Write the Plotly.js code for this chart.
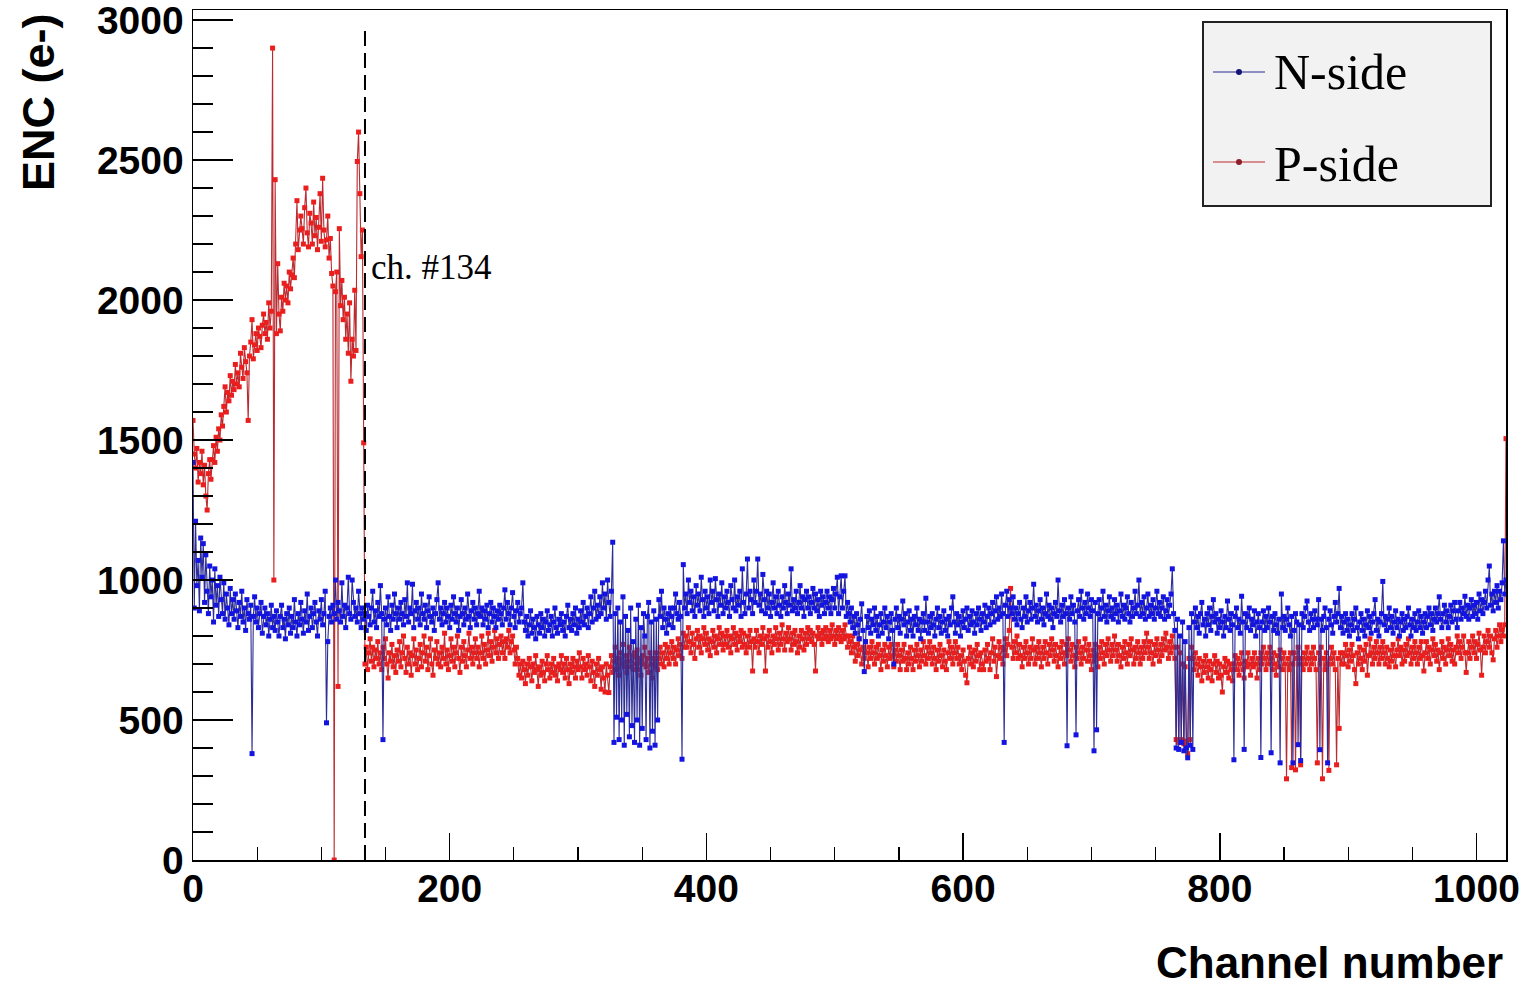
<!DOCTYPE html>
<html>
<head>
<meta charset="utf-8">
<script src="https://cdn.plot.ly/plotly-3.0.1.min.js"></script>
<style>
  html, body { margin: 0; padding: 0; background: #ffffff; }
  #chart { width: 1524px; height: 987px; }
</style>
</head>
<body>
<div id="chart"></div>
<script>
// ENC per channel, N-side (electrons), channels 0..1023
const nSide = [
1420,900,1210,980,1070,890,1150,1010,1130,920,1090,960,880,1050,940,1000,850,1040,910,980,870,1010,930,880,990,860,950,900,840,970,880,930,
860,950,890,830,920,870,960,850,900,820,930,880,860,910,380,870,940,850,900,830,880,920,810,870,900,840,880,800,860,910,830,870,
820,890,850,800,870,910,830,860,790,880,840,900,810,870,830,930,850,800,880,840,920,860,810,890,850,950,820,870,900,830,880,920,
850,800,890,860,930,840,880,960,490,780,870,900,850,910,880,1000,860,920,890,850,990,870,910,830,900,1010,880,860,1000,920,870,900,
850,960,880,830,900,860,880,820,910,870,840,900,960,850,890,830,920,870,980,880,430,860,900,840,940,870,820,910,860,950,880,830,
900,860,920,880,840,930,870,990,850,900,880,985,830,890,920,860,900,840,950,880,860,910,830,890,940,870,850,900,820,880,930,990,
860,900,840,880,920,850,900,870,830,910,860,940,880,850,900,820,870,930,880,840,900,860,950,870,830,890,920,860,900,840,880,960,
870,900,840,890,860,910,830,880,920,850,900,870,830,890,860,910,880,840,900,965,860,920,880,840,900,955,870,830,890,920,850,880,
900,990,850,820,870,800,840,890,810,860,830,790,870,840,810,880,830,860,800,850,890,820,840,870,800,850,900,830,810,860,840,880,
820,850,800,870,910,830,860,820,880,840,900,810,860,830,890,850,920,840,870,900,830,880,940,850,900,960,860,910,870,940,880,990,
900,950,860,1000,920,870,960,1135,420,880,510,900,430,850,500,940,410,870,520,820,440,900,480,780,420,860,500,910,410,830,470,880,
800,430,870,920,400,850,460,890,410,860,500,930,870,960,830,900,860,810,880,840,900,870,830,900,950,880,860,920,870,360,1055,900,
950,880,1000,920,960,890,940,870,980,910,950,890,1010,930,870,960,900,940,880,1000,920,960,890,1005,930,870,950,910,990,880,940,900,
960,920,870,980,930,900,1000,890,940,910,960,870,1040,920,880,950,1075,900,960,930,880,1000,920,960,1075,910,950,890,1020,930,880,960,
900,950,870,920,990,900,940,880,960,910,870,940,900,980,920,880,950,910,1040,890,930,900,960,880,920,980,900,940,870,930,960,900,
940,880,920,970,900,950,890,930,870,960,910,940,880,920,960,900,940,880,930,970,900,950,1010,880,940,1015,900,960,1015,870,920,880,
850,900,830,870,810,880,840,790,860,915,820,673,780,870,830,890,810,860,840,900,820,870,800,840,880,810,850,900,830,870,790,850,
880,820,700,860,900,830,870,810,860,925,840,880,800,850,890,820,860,800,870,840,900,820,860,790,850,880,820,935,850,810,870,830,
880,840,800,860,900,830,870,810,850,890,820,860,800,870,840,900,940,850,810,880,840,870,800,850,890,830,860,900,820,870,840,890,
850,810,880,840,900,860,820,880,850,910,830,870,900,840,880,920,850,890,940,860,900,870,950,880,420,910,960,870,930,900,880,940,
860,900,840,880,920,860,830,900,870,940,850,890,920,860,900,985,870,910,850,890,930,860,900,840,880,950,870,910,860,900,830,880,
920,870,1000,890,850,910,870,930,880,408,900,860,940,880,910,850,447,890,930,870,960,900,860,920,880,950,900,870,930,890,390,920,
465,880,930,860,900,960,870,910,850,890,940,870,900,860,930,880,910,850,890,950,870,910,860,900,940,880,850,920,870,900,960,880,
910,1000,870,920,880,940,860,900,950,870,910,880,930,860,900,960,880,920,870,900,940,860,890,930,870,910,950,1040,880,820,400,860,
395,800,420,850,390,780,400,365,830,410,880,395,850,900,830,870,810,880,920,840,860,800,880,840,900,820,870,930,850,880,810,860,
830,890,850,800,870,830,925,860,820,880,840,358,870,900,830,860,810,942,850,395,880,830,870,900,820,860,840,890,800,850,880,830,
366,850,890,820,870,830,900,850,383,870,820,880,840,810,860,347,950,830,870,820,860,900,840,800,870,347,820,880,850,412,840,355,
880,830,870,900,925,850,820,880,860,830,890,860,840,930,394,860,820,870,900,830,347,860,890,840,810,870,920,850,880,970,830,870,
810,850,880,820,860,800,840,880,820,860,900,830,790,850,880,820,860,800,840,890,830,870,810,850,880,930,820,860,800,850,880,995,
840,870,820,860,900,830,870,810,850,890,830,860,800,850,880,820,860,830,870,900,840,800,860,830,880,820,850,890,830,870,810,850,
880,830,870,900,840,880,820,860,900,850,880,940,860,830,880,910,850,890,830,870,910,850,890,920,860,830,890,920,860,900,880,942,
870,910,860,900,930,870,910,880,920,860,950,890,930,880,920,960,900,1000,1050,910,950,890,960,920,980,900,960,930,990,1140,950,1000
];

// ENC per channel, P-side (electrons), channels 0..1023
const pSide = [
1570,1450,1400,1470,1350,1420,1380,1460,1340,1410,1300,1250,1380,1430,1360,1430,1480,1420,1510,1460,1540,1500,1590,1550,1620,1690,1600,1670,1640,1730,1660,1710,
1680,1770,1700,1740,1690,1810,1760,1720,1830,1780,1740,1570,1800,1850,1930,1790,1840,1880,1820,1900,1870,1830,1910,1950,1880,1920,1860,1990,1900,1960,2900,1000,
2430,1880,2130,1950,1890,2010,1960,2060,2000,2050,1990,2100,2040,2090,2150,2080,2200,2355,2180,2250,2300,2255,2200,2330,2400,2240,2190,2310,2275,2200,2350,2230,
2295,2180,2260,2380,2210,2435,2250,2190,2215,2300,2150,2220,2095,2050,0,2030,2100,620,2255,1980,2070,1930,2010,1860,1950,1810,1990,1710,1860,1800,2035,1820,
2495,2600,2380,2155,2250,1490,700,760,680,740,790,710,760,690,750,720,780,700,740,680,760,720,790,700,650,740,710,770,690,730,670,750,
710,780,690,740,800,720,670,760,700,740,660,730,790,700,750,680,720,770,690,740,800,710,760,680,730,790,700,660,750,720,780,700,
740,690,760,720,810,700,750,680,730,790,710,760,690,740,800,720,670,760,710,780,730,690,750,810,720,760,700,740,790,720,760,690,
740,800,720,770,700,750,810,730,780,710,760,820,740,790,720,770,800,740,780,720,790,760,820,740,780,800,750,700,760,720,660,700,
650,710,680,630,700,660,720,690,640,700,670,730,680,620,690,660,710,670,640,700,730,680,650,700,670,720,660,690,640,700,680,730,
670,700,650,720,680,630,700,670,720,690,650,710,680,740,690,650,720,680,700,660,730,690,640,710,670,620,700,660,720,680,610,690,
650,600,700,660,598,690,730,670,710,760,680,720,660,740,700,770,690,730,670,710,760,690,730,680,740,700,750,680,720,660,730,700,
760,690,720,670,740,700,650,720,690,740,680,720,760,700,740,690,770,720,760,700,740,780,720,760,700,750,790,730,770,720,810,760,
800,760,830,780,740,810,770,720,790,820,760,800,740,790,830,770,810,750,790,730,780,820,760,800,740,790,830,770,810,750,800,770,
820,760,800,740,790,830,770,810,750,800,780,820,760,810,770,740,800,760,820,780,675,790,760,820,780,740,800,770,830,790,675,800,
760,820,780,740,800,770,830,790,750,810,770,840,790,750,810,780,830,790,750,810,770,820,780,740,800,760,820,790,750,810,770,830,
790,820,780,810,770,675,800,830,790,810,770,820,790,830,800,780,820,790,840,800,770,820,790,830,800,780,820,790,840,800,760,800,
780,740,800,760,710,770,730,790,750,700,760,720,780,740,690,760,720,780,740,700,760,720,770,730,680,750,710,770,730,690,760,720,
770,730,690,750,710,770,730,680,750,710,770,720,680,740,700,760,720,680,750,710,770,730,690,750,710,780,730,700,760,720,780,740,
700,760,720,680,750,710,770,730,690,750,710,680,740,780,720,760,700,740,780,720,760,700,730,680,750,710,660,633,720,760,700,740,
690,750,710,770,730,680,740,700,680,750,710,770,720,680,740,790,710,760,655,730,780,720,760,700,750,790,730,770,820,970,760,720,
780,740,800,720,770,730,690,760,720,780,740,700,760,720,790,750,700,760,720,780,740,690,760,720,780,740,700,770,730,790,750,710,
770,730,690,760,720,780,740,700,770,730,790,750,710,770,730,690,760,720,780,740,700,760,720,790,750,710,770,730,680,750,710,770,
730,690,760,720,780,740,700,770,730,790,750,710,770,730,800,750,710,770,730,690,760,720,780,740,700,770,730,790,750,700,760,720,
780,740,700,760,720,780,740,810,760,720,780,740,700,770,730,790,750,710,770,730,790,750,810,760,720,780,740,800,760,720,430,760,
420,740,430,700,415,690,425,380,720,430,760,720,680,740,700,660,720,690,640,710,670,730,690,650,710,680,640,700,730,670,710,650,
700,660,600,690,720,670,710,650,700,680,640,700,730,680,720,660,700,740,680,650,710,690,740,700,660,720,690,740,700,650,720,680,
740,700,760,720,680,740,700,760,720,680,740,700,660,730,690,750,720,680,740,700,290,720,680,740,330,700,740,322,720,760,700,340,
720,680,740,700,760,720,680,740,700,760,720,680,347,740,700,760,290,720,680,740,700,320,720,760,700,740,680,340,720,470,740,700,
740,700,770,730,690,750,710,770,730,680,630,740,700,760,720,680,750,710,770,660,730,790,740,700,760,720,780,740,700,760,720,780,
740,700,760,720,690,750,710,770,730,690,750,790,730,760,700,750,710,770,730,790,740,700,760,720,780,740,700,760,720,780,730,675,
740,780,720,760,700,750,790,730,770,710,750,680,740,780,720,760,700,750,790,730,770,710,750,700,760,800,740,780,720,760,800,740,
670,740,780,720,760,800,740,780,720,770,810,750,660,760,800,740,780,820,760,800,740,715,790,820,760,800,840,780,823,800,840,1505
];

const seriesNames = ["N-side", "P-side"];
const markerChannel = 134;
const markerLabel = "ch. #134";
const xTitle = "Channel number";
const yTitle = "ENC (e-)";

const chN = nSide.map((_, i) => i);
const chP = pSide.map((_, i) => i);

const sans = "Liberation Sans, Arial, Helvetica, sans-serif";
const serif = "Liberation Serif, Times New Roman, serif";

const traceP = {
  x: chP, y: pSide, type: "scatter", mode: "lines+markers", name: seriesNames[1],
  line: { color: "rgb(185,45,50)", width: 1.1 },
  marker: { color: "rgb(235,30,30)", size: 5, symbol: "square" },
  showlegend: false, hoverinfo: "x+y"
};
const traceN = {
  x: chN, y: nSide, type: "scatter", mode: "lines+markers", name: seriesNames[0],
  line: { color: "rgb(45,45,150)", width: 1.1 },
  marker: { color: "rgb(20,20,225)", size: 5, symbol: "square" },
  showlegend: false, hoverinfo: "x+y"
};

// pixel helpers for paper coords (plot area: x 193..1506, y 10..860)
const L = 193, R = 1506, T = 10, B = 860;
const px = v => (v - L) / (R - L);
const py = v => (B - v) / (B - T);

const layout = {
  width: 1524, height: 987,
  margin: { l: L, r: 1524 - R, t: T, b: 987 - B, pad: 0 },
  paper_bgcolor: "#ffffff", plot_bgcolor: "#ffffff",
  showlegend: false,
  xaxis: {
    range: [0, 1023], tickmode: "linear", tick0: 0, dtick: 200,
    ticks: "inside", ticklen: 27, tickwidth: 1.5, tickcolor: "#000",
    minor: { dtick: 50, tick0: 0, ticks: "inside", ticklen: 13, tickwidth: 1.2, tickcolor: "#000", showgrid: false },
    showline: true, mirror: true, linecolor: "#000", linewidth: 1.5,
    showgrid: false, zeroline: false, ticklabeloverflow: "allow", ticklabelstandoff: -6,
    tickfont: { family: sans, size: 39, color: "#000", weight: "bold" }
  },
  yaxis: {
    range: [0, 3036], tickmode: "linear", tick0: 0, dtick: 500,
    ticks: "inside", ticklen: 40, tickwidth: 1.5, tickcolor: "#000",
    minor: { dtick: 100, tick0: 0, ticks: "inside", ticklen: 20, tickwidth: 1.2, tickcolor: "#000", showgrid: false },
    showline: true, mirror: true, linecolor: "#000", linewidth: 1.5,
    showgrid: false, zeroline: false, ticklabeloverflow: "allow",
    tickfont: { family: sans, size: 39, color: "#000", weight: "bold" }
  },
  shapes: [
    { type: "line", xref: "x", yref: "y", x0: markerChannel, x1: markerChannel, y0: 0, y1: 2980,
      line: { color: "#000", width: 2, dash: "15px,7px" } },
    { type: "rect", xref: "paper", yref: "paper", x0: px(1203), x1: px(1491), y0: py(206), y1: py(22),
      fillcolor: "#f2f2f2", line: { color: "#222", width: 2 } },
    { type: "line", xref: "paper", yref: "paper", x0: px(1213), x1: px(1265), y0: py(72), y1: py(72),
      line: { color: "rgb(40,40,150)", width: 1 } },
    { type: "line", xref: "paper", yref: "paper", x0: px(1213), x1: px(1265), y0: py(162), y1: py(162),
      line: { color: "rgb(190,40,45)", width: 1 } },
    { type: "circle", xref: "paper", yref: "paper", xsizemode: "pixel", ysizemode: "pixel",
      xanchor: px(1239), yanchor: py(72), x0: -3, x1: 3, y0: -3, y1: 3,
      fillcolor: "rgb(20,20,120)", line: { width: 0 } },
    { type: "circle", xref: "paper", yref: "paper", xsizemode: "pixel", ysizemode: "pixel",
      xanchor: px(1239), yanchor: py(162), x0: -3, x1: 3, y0: -3, y1: 3,
      fillcolor: "rgb(140,30,40)", line: { width: 0 } }
  ],
  annotations: [
    { xref: "x", yref: "y", x: markerChannel + 3, y: 2115, text: markerLabel, showarrow: false,
      xanchor: "left", yanchor: "middle", font: { family: serif, size: 35, color: "#000" } },
    { xref: "paper", yref: "paper", x: px(1272), y: py(72), text: seriesNames[0], showarrow: false,
      xanchor: "left", yanchor: "middle", font: { family: serif, size: 50, color: "#000" } },
    { xref: "paper", yref: "paper", x: px(1272), y: py(164), text: seriesNames[1], showarrow: false,
      xanchor: "left", yanchor: "middle", font: { family: serif, size: 50, color: "#000" } },
    { xref: "paper", yref: "paper", x: px(1505), y: py(962), text: xTitle, showarrow: false,
      xanchor: "right", yanchor: "middle", font: { family: sans, size: 44, color: "#000", weight: "bold" } },
    { xref: "paper", yref: "paper", x: px(38), y: py(102), text: yTitle, showarrow: false, textangle: -90,
      xanchor: "center", yanchor: "middle", font: { family: sans, size: 45, color: "#000", weight: "bold" } }
  ]
};

Plotly.newPlot("chart", [traceP, traceN], layout, { displayModeBar: false, staticPlot: true });
</script>
</body>
</html>
